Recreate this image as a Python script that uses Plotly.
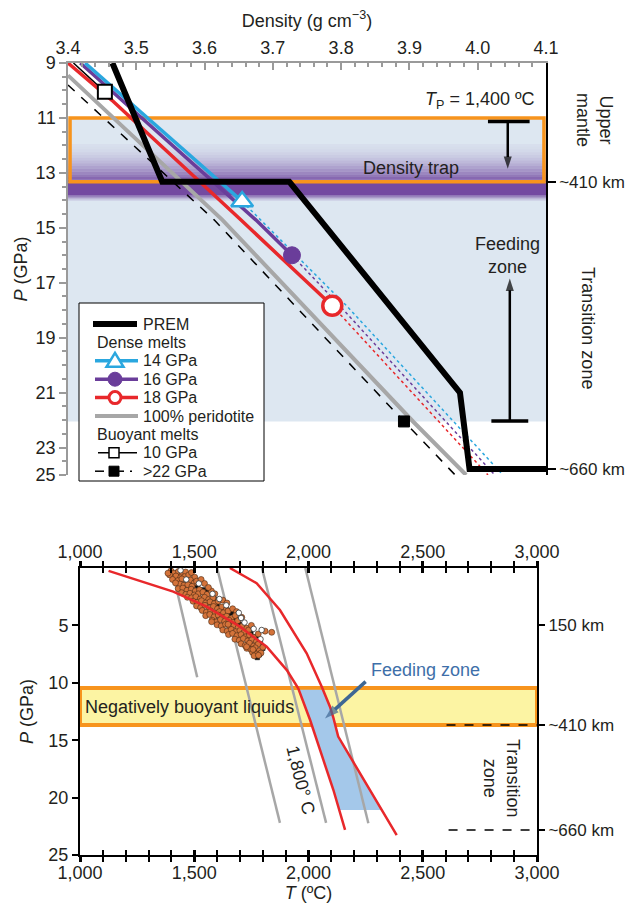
import plotly.graph_objects as go

# the page body adds an 8 px margin, so the figure is sized to the visible area
PAGE_W, PAGE_H, OFF = 633, 912, 8
W, H = PAGE_W - OFF, PAGE_H - OFF
FONT = "Liberation Sans, Arial, Helvetica, sans-serif"

# ---------------- top panel: density vs pressure ----------------
PREM_P = [9.0, 13.32, 13.32, 21.0, 23.78, 23.78]
PREM_D = [3.465, 3.538, 3.724, 3.974, 3.988, 4.10]

M14_SOLID_P = [9.0, 10.35, 14.04]
M14_SOLID_D = [3.425, 3.487, 3.655]
M14_DOT_P = [14.04, 17.84, 24.0]
M14_DOT_D = [3.655, 3.808, 4.037]

M16_SOLID_P = [9.0, 10.35, 14.71, 16.0]
M16_SOLID_D = [3.418, 3.479, 3.675, 3.728]
M16_DOT_P = [16.0, 17.84, 24.0]
M16_DOT_D = [3.728, 3.798, 4.025]

M18_SOLID_P = [9.0, 10.35, 14.71, 17.84]
M18_SOLID_D = [3.40, 3.464, 3.653, 3.787]
M18_DOT_P = [17.84, 24.0]
M18_DOT_D = [3.787, 4.015]

PER_P = [9.45, 14.71, 22.07, 24.0]
PER_D = [3.40, 3.626, 3.906, 3.983]

B10_P = [9.0, 10.05]
B10_D = [3.408, 3.454]

B22_P = [9.8, 14.71, 22.05, 24.0]
B22_D = [3.40, 3.614, 3.892, 3.967]
B22_MARK = (3.892, 22.05)

TOP_TICKS = [9, 11, 13, 15, 17, 19, 21, 23, 24]
TOP_TICKTEXT = ["9", "11", "13", "15", "17", "19", "21", "23", "25"]
KM_TOP_P = [13.32, 23.78]
KM_TOP_TEXT = ["~410 km", "~660 km"]

BLUE_ZONE = (11.0, 22.05)
ORANGE_BOX = (11.0, 13.32)
ARROW_DOWN = dict(d=4.044, p_tail=11.13, p_head=12.85, bar=(4.015, 4.076))
ARROW_UP = dict(d=4.047, p_tail=22.03, p_head=16.85, bar=(4.02, 4.074))

LEGEND_LABELS = ["PREM", "Dense melts", "14 GPa", "16 GPa", "18 GPa", "100% peridotite",
                 "Buoyant melts", "10 GPa", ">22 GPa"]

# ---------------- bottom panel: temperature vs pressure ----------------
RED_L_T = [1125, 1263, 1408, 1554, 1700, 1817, 1905, 1955, 2007, 2065, 2109, 2160]
RED_L_P = [0.25, 1.1, 2.06, 3.37, 5.11, 6.86, 8.89, 10.48, 13.24, 16.72, 19.34, 22.82]
RED_R_T = [1656, 1773, 1875, 1948, 1992, 2058, 2094, 2108, 2130, 2386]
RED_R_P = [0.0, 1.33, 3.66, 5.98, 7.43, 10.34, 12.08, 12.98, 14.69, 23.26]

ADIABATS = [
    ([1401, 1513], [0.0, 9.52]),
    ([1600, 1875], [0.0, 22.2]),
    ([1796, 2077], [0.0, 22.2]),
    ([1986, 2262], [0.0, 22.24]),
]

FEED_T = [1955, 2007, 2065, 2109, 2134, 2321, 2130, 2116, 2094, 2062, 1955]
FEED_P = [10.6, 13.24, 16.72, 19.34, 21.08, 21.08, 14.69, 13.24, 12.08, 10.6, 10.6]
FEED_ARROW_T = [2250, 2072]
FEED_ARROW_P = [9.9, 13.1]

NEG_BAND = (10.45, 13.68)
KM_BOT_P = [5, 13.68, 22.82]
KM_BOT_TEXT = ["150 km", "~410 km", "~660 km"]

ORANGE_PTS = [
    (1398, 0.25), (1412, 0.45), (1431, 0.3), (1447, 0.55), (1462, 0.35), (1420, 0.7), (1440, 0.85),
    (1458, 0.75), (1476, 0.6), (1392, 0.6), (1385, 0.45), (1488, 0.4), (1502, 0.8),
    (1405, 1.0), (1428, 1.1), (1446, 0.95), (1465, 1.2), (1483, 1.05), (1500, 1.3), (1437, 1.4),
    (1455, 1.5), (1472, 1.45), (1490, 1.6), (1418, 1.3), (1510, 1.15), (1530, 1.0), (1545, 1.35),
    (1430, 1.8), (1450, 1.75), (1468, 1.95), (1487, 1.85), (1505, 2.0), (1523, 1.9), (1445, 2.15),
    (1463, 2.3), (1481, 2.2), (1500, 2.35), (1518, 2.25), (1538, 2.1), (1556, 2.3), (1575, 2.0),
    (1562, 1.7), (1590, 2.25),
    (1470, 2.55), (1488, 2.6), (1507, 2.5), (1526, 2.7), (1545, 2.55), (1563, 2.75), (1582, 2.6),
    (1495, 2.9), (1513, 3.0), (1532, 2.85), (1550, 3.05), (1569, 2.95), (1588, 3.1), (1605, 2.9),
    (1625, 2.8), (1643, 3.05),
    (1510, 3.3), (1528, 3.45), (1547, 3.25), (1565, 3.5), (1584, 3.35), (1602, 3.55), (1621, 3.4),
    (1640, 3.6), (1535, 3.7), (1553, 3.85), (1572, 3.75), (1590, 3.95), (1610, 3.8), (1628, 3.9),
    (1648, 3.75), (1668, 3.55), (1685, 3.8),
    (1550, 4.15), (1568, 4.05), (1587, 4.25), (1605, 4.1), (1624, 4.3), (1642, 4.2), (1661, 4.4),
    (1680, 4.15), (1578, 4.55), (1596, 4.7), (1615, 4.5), (1633, 4.65), (1652, 4.55), (1670, 4.75),
    (1690, 4.6), (1576, 4.68), (1708, 4.3),
    (1600, 4.95), (1618, 5.05), (1637, 4.9), (1655, 5.1), (1674, 5.0), (1692, 5.2), (1711, 5.05),
    (1730, 5.25), (1625, 5.4), (1644, 5.5), (1662, 5.35), (1681, 5.55), (1700, 5.45), (1718, 5.6),
    (1738, 5.4), (1648, 4.9), (1750, 5.0),
    (1650, 5.8), (1668, 5.7), (1687, 5.9), (1705, 5.8), (1724, 6.0), (1742, 5.85), (1760, 6.05),
    (1678, 6.2), (1697, 6.3), (1715, 6.15), (1734, 6.35), (1752, 6.25), (1772, 6.4), (1810, 5.5),
    (1839, 5.6), (1780, 5.75),
    (1705, 6.6), (1723, 6.75), (1742, 6.55), (1760, 6.8), (1779, 6.65), (1730, 7.0), (1748, 7.1),
    (1767, 6.95), (1785, 7.2), (1755, 7.35), (1773, 7.5), (1792, 7.4), (1762, 7.65), (1781, 7.6),
    (1729, 6.86), (1757, 7.1), (1800, 6.9),
]
BLACK_PTS = [
    (1425, 0.4), (1470, 0.9), (1515, 1.7), (1490, 1.25), (1545, 2.4), (1560, 2.0), (1600, 3.2),
    (1575, 3.0), (1630, 3.5), (1650, 4.0), (1612, 4.4), (1680, 4.5), (1700, 4.9), (1725, 5.5),
    (1748, 5.7), (1770, 6.0), (1790, 6.6), (1800, 7.0), (1785, 7.55), (1776, 7.8), (1540, 1.9),
    (1665, 3.9), (1710, 5.3), (1735, 6.2), (1755, 6.9), (1460, 0.5), (1505, 1.45), (1595, 2.75),
    (1655, 4.8), (1765, 7.2),
]
WHITE_PTS = [
    (1440, 0.2), (1465, 1.0), (1520, 1.35), (1580, 2.25), (1610, 2.7), (1640, 3.25), (1695, 3.9),
    (1705, 4.35), (1760, 5.3), (1790, 6.2), (1795, 5.4), (1720, 4.75),
]

# ---------------- colours ----------------
C_BLUE = "#2aa7df"
C_PURPLE = "#6a3d9a"
C_RED = "#e8282b"
C_GRAY = "#a7a7a7"
C_ORANGE = "#f7941d"
C_LIGHTBLUE = "#dde7f1"
C_AXGRAY = "#9a9a9a"
C_TEXT = "#231f20"

TOP_BOX = (68, 546, 63, 475)   # page px: left, right, top, bottom
BOT_BOX = (80, 537, 568, 855)


def px(x):
    return (x - OFF) / W


def py(y):
    return 1 - (y - OFF) / H


def xdom(b):
    return [px(b[0]), px(b[1])]


def ydom(b):
    return [py(b[3]), py(b[2])]


fig = go.Figure()


def line(xs, ys, color, width, dash="solid", xa="x", ya="y"):
    fig.add_trace(go.Scatter(x=xs, y=ys, mode="lines", xaxis=xa, yaxis=ya,
                             line=dict(color=color, width=width, dash=dash),
                             showlegend=False, hoverinfo="skip"))


def marker(x, y, symbol, size, fill, edge, ew, xa="x", ya="y"):
    fig.add_trace(go.Scatter(x=[x], y=[y], mode="markers", xaxis=xa, yaxis=ya,
                             marker=dict(symbol=symbol, size=size, color=fill,
                                         line=dict(color=edge, width=ew)),
                             showlegend=False, hoverinfo="skip"))


def arrow(xs, ys, color, width, head, xa="x", ya="y"):
    fig.add_trace(go.Scatter(x=xs, y=ys, mode="lines+markers", xaxis=xa, yaxis=ya,
                             line=dict(color=color, width=width),
                             marker=dict(symbol="arrow", size=[0, head], angleref="previous",
                                         color=color, line=dict(width=0)),
                             showlegend=False, hoverinfo="skip"))


def dummy(xa, ya):
    fig.add_trace(go.Scatter(x=[None], y=[None], xaxis=xa, yaxis=ya, showlegend=False,
                             hoverinfo="skip", mode="lines"))


# ---- top panel traces ----
line(PER_D, PER_P, C_GRAY, 4)
line(B22_D, B22_P, "black", 1.5, "dash")
line(M18_DOT_D, M18_DOT_P, C_RED, 1.5, "dot")
line(M16_DOT_D, M16_DOT_P, C_PURPLE, 1.5, "dot")
line(M14_DOT_D, M14_DOT_P, C_BLUE, 1.5, "dot")
line(B10_D, B10_P, "black", 1.5)
line(M18_SOLID_D, M18_SOLID_P, C_RED, 3.5)
line(M16_SOLID_D, M16_SOLID_P, C_PURPLE, 3.5)
line(M14_SOLID_D, M14_SOLID_P, C_BLUE, 3.5)
line(PREM_D, PREM_P, "black", 6)
marker(M14_SOLID_D[-1], M14_SOLID_P[-1], "triangle-up", 19, "white", C_BLUE, 2.5)
marker(M16_SOLID_D[-1], M16_SOLID_P[-1], "circle", 17, C_PURPLE, C_PURPLE, 1)
marker(M18_SOLID_D[-1], M18_SOLID_P[-1], "circle", 19, "white", C_RED, 3.5)
marker(B10_D[-1], B10_P[-1], "square", 14, "white", "black", 2)
marker(B22_MARK[0], B22_MARK[1], "square", 11, "black", "black", 1)
for a in (ARROW_DOWN, ARROW_UP):
    arrow([a["d"], a["d"]], [a["p_tail"], a["p_head"]], "black", 2.5, 13)
dummy("x", "y3")

# ---- bottom panel traces ----
fig.add_trace(go.Scatter(x=FEED_T, y=FEED_P, xaxis="x2", yaxis="y2", mode="lines",
                         fill="toself", fillcolor="#a4c8ea", line=dict(width=0),
                         showlegend=False, hoverinfo="skip"))
for ts, ps in ADIABATS:
    line(ts, ps, C_GRAY, 2.5, xa="x2", ya="y2")


def cloud(pts, symbol, size, fill, edge, ew):
    fig.add_trace(go.Scatter(x=[p[0] for p in pts], y=[p[1] for p in pts], mode="markers",
                             xaxis="x2", yaxis="y2",
                             marker=dict(symbol=symbol, size=size, color=fill,
                                         line=dict(color=edge, width=ew)),
                             showlegend=False, hoverinfo="skip"))


cloud(BLACK_PTS, "square", 4.5, "#111111", "#111111", 0.5)
cloud(ORANGE_PTS, "circle", 6, "#d4733a", "#4a2a14", 0.6)
cloud(WHITE_PTS, "circle", 5.5, "white", "#333333", 0.8)

line(RED_L_T, RED_L_P, C_RED, 2.5, xa="x2", ya="y2")
line(RED_R_T, RED_R_P, C_RED, 2.5, xa="x2", ya="y2")
arrow(FEED_ARROW_T, FEED_ARROW_P, "#3e6794", 3.5, 15, xa="x2", ya="y2")

dummy("x3", "y2")
dummy("x2", "y4")
dummy("x4", "y2")
dummy("x5", "y2")

# ---------------- shapes ----------------
shapes = []
shapes.append(dict(type="rect", xref="x", yref="y", x0=3.4, x1=4.1, y0=BLUE_ZONE[0], y1=BLUE_ZONE[1],
                   fillcolor=C_LIGHTBLUE, line=dict(width=0), layer="below"))
n = 14
for i in range(n):
    p0 = 11.95 + i * 0.1
    a = 0.04 + 0.8 * (i / (n - 1)) ** 1.6
    shapes.append(dict(type="rect", xref="x", yref="y", x0=3.4, x1=4.1, y0=p0, y1=p0 + 0.1,
                       fillcolor=f"rgba(106,61,154,{a:.3f})", line=dict(width=0), layer="below"))
shapes.append(dict(type="rect", xref="x", yref="y", x0=3.4, x1=4.1, y0=13.36, y1=13.82,
                   fillcolor="rgba(106,61,154,0.92)", line=dict(width=0), layer="below"))
for i, a in enumerate([0.7, 0.45, 0.25, 0.1]):
    p0 = 13.82 + i * 0.05
    shapes.append(dict(type="rect", xref="x", yref="y", x0=3.4, x1=4.1, y0=p0, y1=p0 + 0.05,
                       fillcolor=f"rgba(106,61,154,{a})", line=dict(width=0), layer="below"))
shapes.append(dict(type="rect", xref="x", yref="y", x0=3.403, x1=4.097, y0=ORANGE_BOX[0],
                   y1=ORANGE_BOX[1], fillcolor="rgba(0,0,0,0)",
                   line=dict(color=C_ORANGE, width=3.5), layer="below"))
for a in (ARROW_DOWN, ARROW_UP):
    shapes.append(dict(type="line", xref="x", yref="y", x0=a["bar"][0], x1=a["bar"][1],
                       y0=a["p_tail"], y1=a["p_tail"], line=dict(color="black", width=3.5)))
shapes.append(dict(type="rect", xref="x2", yref="y2", x0=1000, x1=3000, y0=NEG_BAND[0],
                   y1=NEG_BAND[1], fillcolor="#fcf4a3", line=dict(color=C_ORANGE, width=4),
                   layer="below"))
shapes.append(dict(type="line", xref="x2", yref="y2", x0=2604, x1=3000, y0=KM_BOT_P[1],
                   y1=KM_BOT_P[1], line=dict(color="black", width=1.5, dash="dash")))
shapes.append(dict(type="line", xref="x2", yref="y2", x0=2613, x1=3000, y0=KM_BOT_P[2],
                   y1=KM_BOT_P[2], line=dict(color="black", width=1.5, dash="dash")))

# ---- hand-drawn legend box (paper coordinates, page-pixel layout) ----
ann = []
LEG_FONT = dict(family=FONT, size=16, color=C_TEXT)
shapes.append(dict(type="rect", xref="paper", yref="paper", x0=px(79), x1=px(264), y0=py(481),
                   y1=py(303), fillcolor="white", line=dict(color="black", width=1), layer="above"))
rows = [324 + i * 18.4 for i in range(9)]


def leg_line(yrow, x0, x1, color, width, dash="solid"):
    shapes.append(dict(type="line", xref="paper", yref="paper", x0=px(x0), x1=px(x1),
                       y0=py(yrow), y1=py(yrow), line=dict(color=color, width=width, dash=dash),
                       layer="above"))


leg_line(rows[0], 93, 137, "black", 6)
leg_line(rows[2], 95, 138, C_BLUE, 3.5)
shapes.append(dict(type="path", xref="paper", yref="paper", layer="above",
                   path=f"M {px(115)} {py(rows[2] - 8)} L {px(123.5)} {py(rows[2] + 6)} "
                        f"L {px(106.5)} {py(rows[2] + 6)} Z",
                   fillcolor="white", line=dict(color=C_BLUE, width=2.5)))
leg_line(rows[3], 95, 138, C_PURPLE, 3.5)
shapes.append(dict(type="circle", xref="paper", yref="paper", layer="above",
                   x0=px(108), x1=px(122), y0=py(rows[3] + 7), y1=py(rows[3] - 7),
                   fillcolor=C_PURPLE, line=dict(color=C_PURPLE, width=1)))
leg_line(rows[4], 95, 138, C_RED, 3.5)
shapes.append(dict(type="circle", xref="paper", yref="paper", layer="above",
                   x0=px(109), x1=px(121), y0=py(rows[4] + 6), y1=py(rows[4] - 6),
                   fillcolor="white", line=dict(color=C_RED, width=3)))
leg_line(rows[5], 95, 138, C_GRAY, 4)
leg_line(rows[7], 98, 137, "black", 1.5)
shapes.append(dict(type="rect", xref="paper", yref="paper", layer="above",
                   x0=px(109), x1=px(119), y0=py(rows[7] + 5), y1=py(rows[7] - 5),
                   fillcolor="white", line=dict(color="black", width=1.5)))
leg_line(rows[8], 95, 104, "black", 1.5)
leg_line(rows[8], 119, 124, "black", 1.5)
shapes.append(dict(type="rect", xref="paper", yref="paper", layer="above",
                   x0=px(109), x1=px(119), y0=py(rows[8] + 5), y1=py(rows[8] - 5),
                   fillcolor="black", line=dict(color="black", width=1)))
shapes.append(dict(type="line", xref="paper", yref="paper", layer="above",
                   x0=px(130), x1=px(132), y0=py(rows[8]), y1=py(rows[8]),
                   line=dict(color="black", width=1.5)))
for i, lab in enumerate(LEGEND_LABELS):
    xl = 95 if lab in ("Dense melts", "Buoyant melts") else 141
    ann.append(dict(xref="paper", yref="paper", x=px(xl), y=py(rows[i]), xanchor="left",
                    yanchor="middle", showarrow=False, text=lab, font=LEG_FONT))

# ---------------- annotations ----------------
TF = dict(family=FONT, size=18, color=C_TEXT)
KMF = dict(family=FONT, size=17, color=C_TEXT)
ann.append(dict(xref="x", yref="y", x=4.087, y=10.38, xanchor="right", showarrow=False,
                text="<i>T</i><sub>P</sub> = 1,400 ºC", font=TF))
ann.append(dict(xref="x", yref="y", x=3.903, y=12.83, showarrow=False, text="Density trap", font=TF))
ann.append(dict(xref="x", yref="y", x=4.043, y=16.0, showarrow=False, text="Feeding<br>zone",
                font=TF))
ann.append(dict(xref="paper", yref="paper", x=px(594), y=py(120), textangle=90,
                xanchor="center", yanchor="middle",
                showarrow=False, text="Upper<br>mantle", font=TF))
ann.append(dict(xref="paper", yref="paper", x=px(588), y=py(328), textangle=90,
                xanchor="center", yanchor="middle",
                showarrow=False, text="Transition zone", font=TF))
ann.append(dict(xref="x2", yref="y2", x=1012, y=12.1, xanchor="left", showarrow=False,
                text="Negatively buoyant liquids", font=TF))
ann.append(dict(xref="x2", yref="y2", x=2510, y=8.9, showarrow=False, text="Feeding zone",
                font=dict(family=FONT, size=18, color="#3e6fa9")))
ann.append(dict(xref="x2", yref="y2", x=1964, y=18.5, textangle=76, showarrow=False,
                text="1,800° C", font=TF))
ann.append(dict(xref="x2", yref="y2", x=2847, y=18.3, textangle=90, showarrow=False,
                xanchor="center", yanchor="middle",
                text="Transition<br>zone", font=TF))

TICKF = dict(family=FONT, size=18, color=C_TEXT)
common = dict(showgrid=False, zeroline=False, automargin=False)
T_TICKS = dict(range=[1000, 3000], dtick=500, tickformat=",", ticklen=5, tickwidth=3,
               tickcolor="black", showline=True, linecolor="black", linewidth=2, tickfont=TICKF,
               **common)


def t_minor(side):
    return dict(dtick=100, ticks=side, ticklen=5, tickwidth=1.5, tickcolor="black", showgrid=False)


fig.update_layout(
    template="none",
    width=W, height=H, margin=dict(l=0, r=0, t=0, b=0, pad=0),
    paper_bgcolor="white", plot_bgcolor="rgba(0,0,0,0)",
    font=dict(family=FONT, size=18, color=C_TEXT),
    shapes=shapes, annotations=ann, showlegend=False,
    xaxis=dict(domain=xdom(TOP_BOX), anchor="y", side="top", range=[3.4, 4.1], dtick=0.1,
               tickformat=".1f", ticks="inside", ticklen=7, tickcolor=C_AXGRAY, tickwidth=1.5,
               showline=True, linecolor=C_AXGRAY, linewidth=1.5, ticklabelstandoff=0,
               tickfont=TICKF,
               minor=dict(dtick=0.02, ticks="inside", ticklen=4, tickcolor=C_AXGRAY, showgrid=False),
               title=dict(text="Density (g cm<sup>−3</sup>)", font=TF, standoff=13), **common),
    yaxis=dict(domain=ydom(TOP_BOX), anchor="x", range=[24, 9], tickmode="array",
               tickvals=TOP_TICKS, ticktext=TOP_TICKTEXT, ticks="outside", ticklen=7,
               tickcolor=C_AXGRAY, tickwidth=1.5, showline=True, linecolor=C_AXGRAY, linewidth=1.5,
               tickfont=TICKF,
               minor=dict(tickmode="linear", tick0=9, dtick=0.5, ticks="outside", ticklen=4,
                          tickcolor=C_AXGRAY, showgrid=False),
               title=dict(text="<i>P</i> (GPa)", font=TF, standoff=3), **common),
    yaxis3=dict(overlaying="y", side="right", anchor="x", range=[24, 9], tickmode="array",
                tickvals=KM_TOP_P, ticktext=KM_TOP_TEXT, ticks="outside", ticklen=8,
                tickcolor="black", tickwidth=1.5, showline=True, linecolor="black", linewidth=1.5,
                tickfont=KMF, **common),
    xaxis2=dict(domain=xdom(BOT_BOX), anchor="y2", side="bottom", ticks="outside",
                ticklabelstandoff=-5, minor=t_minor("outside"),
                title=dict(text="<i>T</i> (ºC)", font=TF, standoff=4), **T_TICKS),
    xaxis3=dict(overlaying="x2", anchor="y2", side="top", ticks="outside", ticklabelstandoff=-4,
                minor=t_minor("outside"), **T_TICKS),
    xaxis4=dict(overlaying="x2", anchor="y2", side="bottom", ticks="inside", showticklabels=False,
                minor=t_minor("inside"), **T_TICKS),
    xaxis5=dict(overlaying="x2", anchor="y2", side="top", ticks="inside", showticklabels=False,
                minor=t_minor("inside"), **T_TICKS),
    yaxis2=dict(domain=ydom(BOT_BOX), anchor="x2", range=[25, 0], tickmode="array",
                tickvals=[5, 10, 15, 20, 25], ticks="outside", ticklen=6, tickwidth=1.5,
                tickcolor="black", showline=True, linecolor="black", linewidth=2, tickfont=TICKF,
                title=dict(text="<i>P</i> (GPa)", font=TF, standoff=10), **common),
    yaxis4=dict(overlaying="y2", side="right", anchor="x2", range=[25, 0], tickmode="array",
                tickvals=KM_BOT_P, ticktext=KM_BOT_TEXT, ticks="outside", ticklen=6, tickwidth=1.5,
                tickcolor="black", showline=True, linecolor="black", linewidth=2, tickfont=KMF,
                **common),
)

fig.write_html("out.html")
